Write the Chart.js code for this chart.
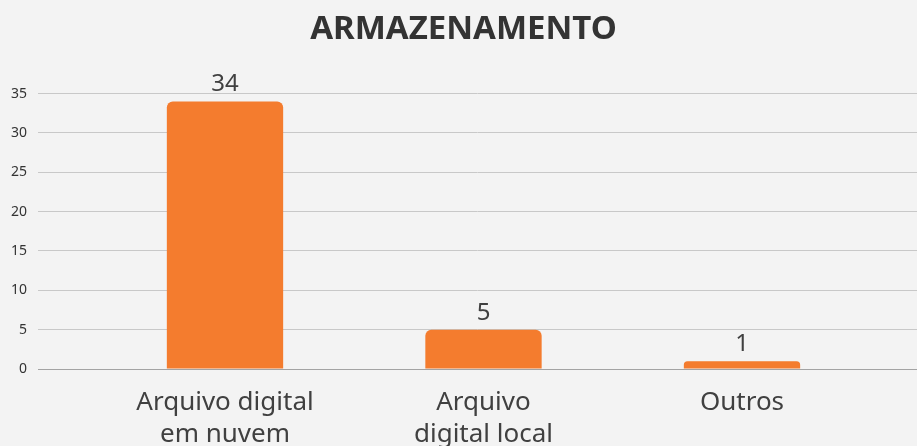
<!DOCTYPE html>
<html>
<head>
<meta charset="utf-8">
<script src="https://cdn.jsdelivr.net/npm/chart.js@4"></script>
<style>
    html, body { margin: 0; padding: 0; background: #f3f3f3; overflow: hidden; }
    #wrap { width: 917px; height: 468px; }
</style>
</head>
<body>
<div id="wrap"><canvas id="armazenamento"></canvas></div>
<script>
// data
const categorias = [["Arquivo digital", "em nuvem"], ["Arquivo", "digital local"], "Outros"];
const respostas = [34, 5, 1];
const yTicks = [0, 5, 10, 15, 20, 25, 30, 35];

const fonte = "'Noto Sans', sans-serif";

// value labels above each bar
const rotulos = {
    id: 'rotulos',
    afterDatasetsDraw(chart) {
        const ctx = chart.ctx;
        const meta = chart.getDatasetMeta(0);
        ctx.save();
        ctx.font = "24px " + fonte;
        ctx.fillStyle = "#404040";
        ctx.textAlign = "center";
        ctx.textBaseline = "alphabetic";
        meta.data.forEach((bar, i) => {
            ctx.fillText(respostas[i], bar.x, bar.y - 10);
        });
        ctx.restore();
    }
};

const pontos = respostas.map((v, i) => ({ x: i, y: v }));

new Chart(document.getElementById("armazenamento"), {
    type: "bar",
    data: {
        datasets: [{
            data: pontos,
            backgroundColor: "#f47c2e",
            borderRadius: { topLeft: 6, topRight: 6, bottomLeft: 0, bottomRight: 0 },
            borderSkipped: "bottom",
            barPercentage: 0.9,
            categoryPercentage: 0.5
        }]
    },
    options: {
        responsive: true,
        maintainAspectRatio: false,
        animation: false,
        layout: { padding: { left: 10, right: 0, top: 0, bottom: 0 } },
        plugins: {
            legend: { display: false },
            tooltip: { enabled: false },
            title: {
                display: true,
                text: "ARMAZENAMENTO",
                color: "#333333",
                font: { family: fonte, size: 33, weight: "bold", lineHeight: 1.2 },
                padding: { top: 10, bottom: 44 }
            }
        },
        scales: {
            x: {
                type: "linear",
                offset: false,
                min: -0.7234,
                max: 2.677,
                afterBuildTicks: (scale) => {
                    scale.ticks = categorias.map((c, i) => ({ value: i }));
                },
                grid: { display: false, drawTicks: false },
                border: { display: true, color: "#a3a3a3", width: 1 },
                ticks: {
                    callback: (v) => categorias[v],
                    color: "#404040",
                    font: { family: fonte, size: 26, lineHeight: 1.25 },
                    padding: 17,
                    maxRotation: 0,
                    autoSkip: false
                }
            },
            y: {
                min: 0,
                max: 35,
                afterBuildTicks: (scale) => {
                    scale.ticks = yTicks.map((v) => ({ value: v }));
                },
                afterFit: (scale) => { scale.width = 28; },
                grid: { color: "#c8c8c8", drawTicks: false },
                border: { display: false },
                ticks: {
                    color: "#333333",
                    font: { family: fonte, size: 14 },
                    padding: 11
                }
            }
        }
    },
    plugins: [rotulos]
});
</script>
</body>
</html>
